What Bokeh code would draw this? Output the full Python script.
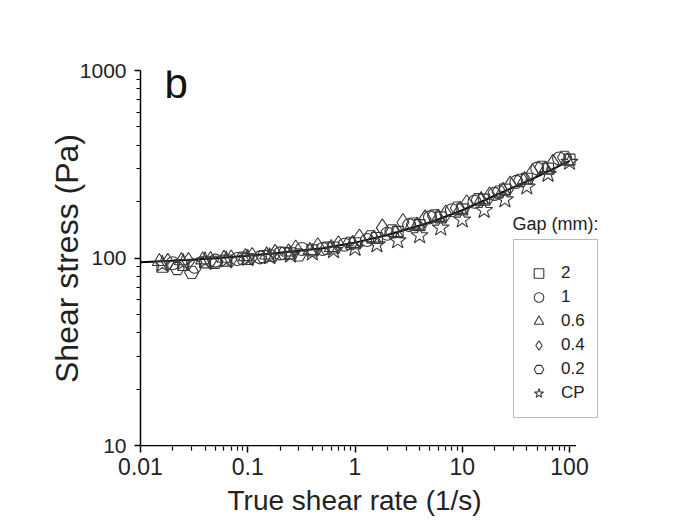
from bokeh.plotting import figure
from bokeh.models import (FixedTicker, CustomJSTickFormatter, Legend, LegendItem, Label, Title)
from bokeh.embed import file_html
from bokeh.resources import INLINE

# ---- data ----
fit_x = [0.01, 0.02, 0.05, 0.1, 0.2, 0.5, 1, 2, 5, 10, 20, 50, 100]
fit_y = [95, 97, 100, 103, 107, 113, 121, 133, 155, 180, 215, 272, 330]

gap2_x = [0.016, 0.025, 0.04, 0.063, 0.1, 0.16, 0.25, 0.4, 0.63, 1, 1.6, 2.5, 4, 6.3, 10, 16, 25, 40, 63, 100]
gap2_y = [90, 92, 95, 97, 99, 103, 106, 110, 114, 120, 128, 138, 150, 165, 182, 205, 232, 265, 300, 335]

gap1_x = [0.02, 0.032, 0.05, 0.08, 0.13, 0.2, 0.32, 0.5, 0.8, 1.3, 2, 3.2, 5, 8, 13, 20, 32, 50, 80]
gap1_y = [94, 90, 97, 99, 101, 106, 112, 112, 118, 125, 135, 150, 165, 180, 200, 220, 255, 300, 340]

gap06_x = [0.015, 0.024, 0.038, 0.06, 0.095, 0.15, 0.24, 0.38, 0.6, 0.95, 1.5, 2.4, 3.8, 6, 9.5, 15, 24, 38, 60, 95]
gap06_y = [96, 97, 98, 100, 102, 104, 108, 110, 114, 120, 128, 137, 150, 165, 182, 205, 230, 262, 298, 330]

gap04_x = [0.018, 0.028, 0.045, 0.07, 0.11, 0.18, 0.28, 0.45, 0.7, 1.1, 1.8, 2.8, 4.5, 7, 11, 18, 28, 45, 70]
gap04_y = [95, 96, 97, 99, 102, 106, 112, 115, 118, 128, 145, 155, 162, 172, 195, 215, 245, 285, 320]

gap02_x = [0.022, 0.03, 0.05, 0.09, 0.14, 0.22, 0.3, 0.55, 0.9, 1.4, 2.2, 3.5, 5.5, 9, 14, 22, 35, 55, 90]
gap02_y = [88, 84, 95, 100, 102, 106, 104, 113, 120, 130, 140, 152, 168, 185, 205, 225, 260, 305, 345]

cp_x = [0.016, 0.025, 0.04, 0.063, 0.1, 0.16, 0.25, 0.4, 0.63, 1, 1.6, 2.5, 4, 6.3, 10, 16, 25, 40, 63, 100]
cp_y = [93, 95, 97, 98, 100, 102, 104, 107, 110, 113, 118, 124, 132, 145, 160, 180, 205, 240, 280, 325]

labels = ["2", "1", "0.6", "0.4", "0.2", "CP"]
x_major = [0.01, 0.1, 1, 10, 100]
y_major = [10, 100, 1000]
x_axis_end = 115

FONT = "Liberation Sans"
MC = "#383838"
TC = "#222222"

p = figure(width=682, height=529, x_axis_type="log", y_axis_type="log",
           x_range=(0.01, 194.5), y_range=(9.92, 1000),
           output_backend="svg", toolbar_location=None,
           min_border_left=140, min_border_right=82,
           min_border_top=70, min_border_bottom=83)
p.outline_line_color = None
p.grid.visible = False
p.background_fill_color = "white"
p.border_fill_color = "white"

# x-axis line drawn only up to just past 100
p.line([x_major[0], x_axis_end], [y_major[0], y_major[0]], line_color="black", line_width=1.5)

p.line(fit_x, fit_y, line_color="black", line_width=2)

r1 = p.scatter(gap2_x, gap2_y, marker="square", size=11, fill_color=None, line_color=MC, line_width=1.1)
r2 = p.scatter(gap1_x, gap1_y, marker="circle", size=13, fill_color=None, line_color=MC, line_width=1.1)
r3 = p.scatter(gap06_x, gap06_y, marker="triangle", size=14, fill_color=None, line_color=MC, line_width=1.1)
r4 = p.scatter(gap04_x, gap04_y, marker="diamond", size=18, fill_color=None, line_color=MC, line_width=1.1)
r5 = p.scatter(gap02_x, gap02_y, marker="hex", size=14, fill_color=None, line_color=MC, line_width=1.1)
r6 = p.scatter(cp_x, cp_y, marker="star", size=18, fill_color=None, line_color=MC, line_width=1.1)

# axes
def minors(majors):
    out = []
    for m in majors[:-1]:
        for k in range(2, 10):
            out.append(m * k)
    return out

p.xaxis.ticker = FixedTicker(ticks=x_major, minor_ticks=minors(x_major + [1000]))
p.yaxis.ticker = FixedTicker(ticks=y_major, minor_ticks=minors(y_major))
p.xaxis.formatter = CustomJSTickFormatter(code="return String(tick);")
p.yaxis.formatter = CustomJSTickFormatter(code="return String(tick);")

for ax in (p.xaxis[0], p.yaxis[0]):
    ax.axis_line_color = "black"
    ax.axis_line_width = 1.5
    ax.major_tick_line_color = "black"
    ax.minor_tick_line_color = "black"
    ax.major_tick_line_width = 1.5
    ax.minor_tick_line_width = 1.2
    ax.major_tick_in = 0
    ax.major_tick_out = 6
    ax.minor_tick_in = 0
    ax.minor_tick_out = 4
    ax.major_label_text_font = FONT
    ax.major_label_text_color = TC
    ax.axis_label_text_font = FONT
    ax.axis_label_text_font_style = "normal"
    ax.axis_label_text_color = TC

p.xaxis.axis_line_color = None
p.xaxis.major_label_text_font_size = "23px"
p.yaxis.major_label_text_font_size = "21px"
p.yaxis.axis_label = "Shear stress (Pa)"
p.yaxis.axis_label_text_font_size = "32px"
p.xaxis.major_label_standoff = 5
p.yaxis.major_label_standoff = 8
p.yaxis.axis_label_standoff = -8

# x-axis title, positioned under the drawn part of the axis
p.add_layout(Title(text="True shear rate (1/s)", align="left", offset=87, standoff=11,
                   text_font=FONT, text_font_size="28px", text_font_style="normal",
                   text_color=TC), "below")

# panel letter
p.add_layout(Label(x=24, y=340, x_units="screen", y_units="screen", text="b",
                   text_font=FONT, text_font_size="42px", text_color="#111111"))

# legend title (outside the box)
p.add_layout(Label(x=415, y=213, x_units="screen", y_units="screen", text="Gap (mm):",
                   text_font=FONT, text_font_size="18px", text_color=TC,
                   text_align="center"))

items = [LegendItem(label=l, renderers=[r]) for l, r in zip(labels, [r1, r2, r3, r4, r5, r6])]
leg = Legend(items=items, location=(373, 28), orientation="vertical",
             title=" ", title_text_font_size="8px", title_standoff=0,
             glyph_width=25, glyph_height=24, label_height=24, spacing=0,
             padding=12, margin=0, label_standoff=10,
             label_text_font=FONT, label_text_font_size="17px", label_text_color=TC,
             border_line_color="#777777", border_line_width=1,
             background_fill_color="white", background_fill_alpha=1)
p.add_layout(leg, "center")

open("out.html", "w").write(file_html(p, INLINE))
